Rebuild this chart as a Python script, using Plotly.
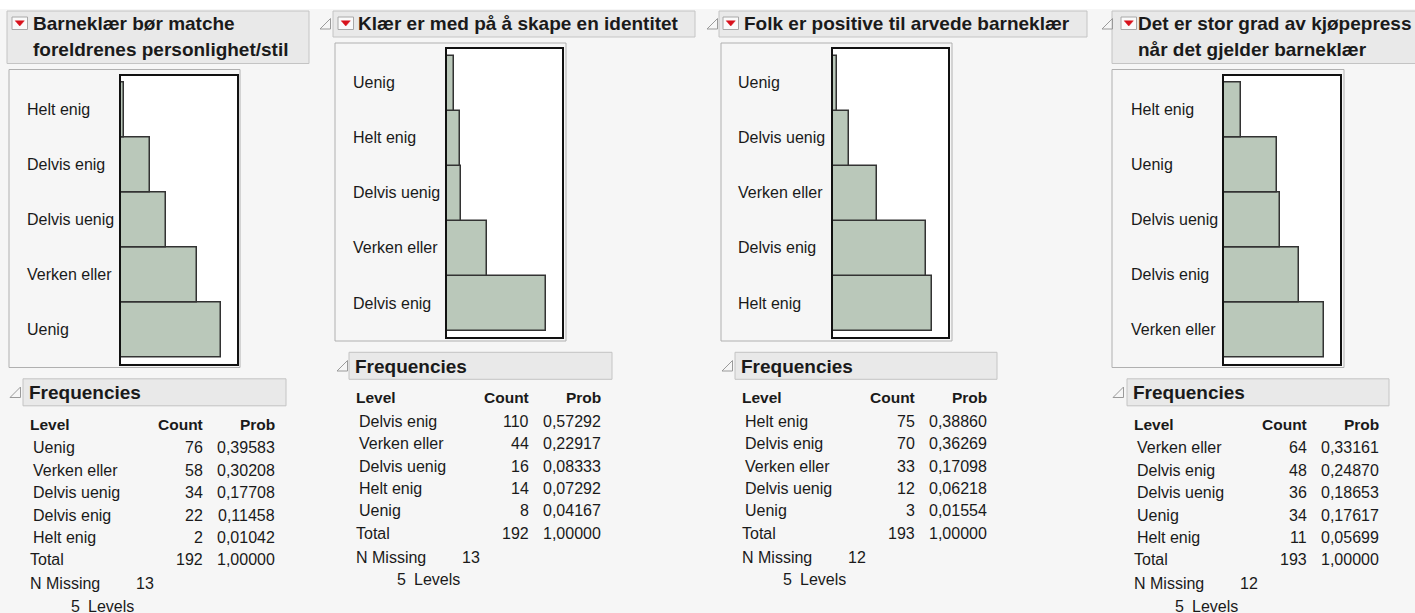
import plotly.graph_objects as go

W, H = 1415, 613

# ---------------- data ----------------
titles = [
    ["Barneklær bør matche", "foreldrenes personlighet/stil"],
    ["Klær er med på å skape en identitet"],
    ["Folk er positive til arvede barneklær"],
    ["Det er stor grad av kjøpepress", "når det gjelder barneklær"],
]
levels_1 = ["Uenig", "Verken eller", "Delvis uenig", "Delvis enig", "Helt enig"]
counts_1 = [76, 58, 34, 22, 2]
missing_1 = 13

levels_2 = ["Delvis enig", "Verken eller", "Delvis uenig", "Helt enig", "Uenig"]
counts_2 = [110, 44, 16, 14, 8]
missing_2 = 13

levels_3 = ["Helt enig", "Delvis enig", "Verken eller", "Delvis uenig", "Uenig"]
counts_3 = [75, 70, 33, 12, 3]
missing_3 = 12

levels_4 = ["Verken eller", "Delvis enig", "Delvis uenig", "Uenig", "Helt enig"]
counts_4 = [64, 48, 36, 34, 11]
missing_4 = 12

col_headers = ["Level", "Count", "Prob"]

panels_data = [
    (titles[0], levels_1, counts_1, missing_1),
    (titles[1], levels_2, counts_2, missing_2),
    (titles[2], levels_3, counts_3, missing_3),
    (titles[3], levels_4, counts_4, missing_4),
]

# ---------------- geometry (pixels) ----------------
geo = [
    dict(hx0=7, hx1=309, t=26.5, icon_x=12, tri_x=None, title_x=32, fx0=9, fx1=240,
         px0=121, px1=237, label_x=26, bx0=23, bx1=286, ftri_x=10),
    dict(hx0=333, hx1=695, t=0, icon_x=338, tri_x=320, title_x=357, fx0=335, fx1=566,
         px0=447, px1=562, label_x=352, bx0=349, bx1=612, ftri_x=337),
    dict(hx0=719, hx1=1087, t=0, icon_x=723, tri_x=707, title_x=743, fx0=721, fx1=952,
         px0=833, px1=948, label_x=737, bx0=735, bx1=997, ftri_x=722),
    dict(hx0=1112, hx1=1440, t=26.5, icon_x=1121, tri_x=1102, title_x=1137, fx0=1112, fx1=1344,
         px0=1224, px1=1340, label_x=1130, bx0=1127, bx1=1389, ftri_x=1113),
]

FONT = "Liberation Sans, Arial, sans-serif"
TXT = "#1a1a1a"
BG = "#f6f6f6"
HDR = "#e9e9e9"
HDR_LINE = "#c4c4c4"
BAR = "#bac8ba"


def X(px):
    return px / W


def Y(py):
    return 1 - py / H


def tri_path(x0, y0, size):
    # right-angle triangle outline (⊿)
    return (f"M {X(x0)},{Y(y0 + size)} L {X(x0 + size)},{Y(y0 + size)} "
            f"L {X(x0 + size)},{Y(y0)} Z")


fig = go.Figure()
shapes = []
annotations = []

# white strip at the very top
shapes.append(dict(type="rect", xref="paper", yref="paper", x0=0, x1=1, y0=Y(9), y1=1,
                   fillcolor="#ffffff", line=dict(width=0), layer="below"))

for i, ((ttl, levels, counts, missing), g) in enumerate(zip(panels_data, geo), start=1):
    t = g["t"]
    total = sum(counts)
    xa = "x" if i == 1 else f"x{i}"
    ya = "y" if i == 1 else f"y{i}"

    # ---- header box ----
    shapes.append(dict(type="rect", xref="paper", yref="paper",
                       x0=X(g["hx0"]), x1=X(g["hx1"]), y0=Y(37 + t), y1=Y(11),
                       fillcolor=HDR, line=dict(color=HDR_LINE, width=1), layer="below"))
    if g["tri_x"] is not None:
        shapes.append(dict(type="path", xref="paper", yref="paper",
                           path=tri_path(g["tri_x"], 18.5, 10.5),
                           line=dict(color="#9a9a9a", width=1), fillcolor="rgba(0,0,0,0)"))
    # red disclosure icon
    ix = g["icon_x"]
    shapes.append(dict(type="rect", xref="paper", yref="paper",
                       x0=X(ix), x1=X(ix + 15.5), y0=Y(29.5), y1=Y(17),
                       fillcolor="#fafafa", line=dict(color="#a8a8a8", width=1)))
    shapes.append(dict(type="path", xref="paper", yref="paper",
                       path=(f"M {X(ix + 3.2)},{Y(20.8)} L {X(ix + 12.3)},{Y(20.8)} "
                             f"L {X(ix + 7.75)},{Y(26)} Z"),
                       fillcolor="#d8121c", line=dict(color="#d8121c", width=0.5)))
    for k, line in enumerate(ttl):
        annotations.append(dict(xref="paper", yref="paper", x=X(g["title_x"] - 1),
                                y=Y(23.5 + 26 * k), text=f"<b>{line}</b>", showarrow=False,
                                xanchor="left", yanchor="middle",
                                font=dict(family=FONT, size=19, color=TXT)))

    # ---- chart frame ----
    shapes.append(dict(type="rect", xref="paper", yref="paper",
                       x0=X(g["fx0"]), x1=X(g["fx1"]), y0=Y(341 + t), y1=Y(43 + t),
                       fillcolor="rgba(0,0,0,0)", line=dict(color="#b0b0b0", width=1),
                       layer="below"))

    # ---- axes ----
    pad = ((288 / 55.0) - len(levels)) / 2
    fig.update_layout(**{
        ("xaxis" if i == 1 else f"xaxis{i}"): dict(
            domain=[X(g["px0"]), X(g["px1"])], range=[0, max(counts) * 1.16],
            anchor=ya, showticklabels=False, showgrid=False, zeroline=False,
            ticks="", showline=True, mirror=True, linecolor="#111111", linewidth=1.5,
            fixedrange=True),
        ("yaxis" if i == 1 else f"yaxis{i}"): dict(
            domain=[Y(337 + t), Y(49 + t)], type="category",
            categoryorder="array", categoryarray=levels,
            range=[-0.5 - pad, len(levels) - 0.5 + pad],
            anchor=xa, showticklabels=False, showgrid=False, zeroline=False,
            ticks="", showline=True, mirror=True, linecolor="#111111", linewidth=1.5,
            fixedrange=True),
    })

    fig.add_trace(go.Bar(
        x=counts, y=levels, orientation="h", xaxis=xa, yaxis=ya, width=1,
        marker=dict(color=BAR, line=dict(color="#333333", width=1.5)),
        showlegend=False, hoverinfo="x+y"))

    # category labels (left-aligned)
    for lv in levels:
        annotations.append(dict(xref="paper", yref=ya, x=X(g["label_x"] - 1), y=lv,
                                text=lv, showarrow=False, xanchor="left", yanchor="middle",
                                font=dict(family=FONT, size=16, color=TXT)))

    # ---- Frequencies section ----
    bx0 = g["bx0"]
    shapes.append(dict(type="rect", xref="paper", yref="paper",
                       x0=X(bx0), x1=X(g["bx1"]), y0=Y(379.3 + t), y1=Y(352.3 + t),
                       fillcolor=HDR, line=dict(color=HDR_LINE, width=1), layer="below"))
    shapes.append(dict(type="path", xref="paper", yref="paper",
                       path=tri_path(g["ftri_x"], 360.5 + t, 10.5),
                       line=dict(color="#9a9a9a", width=1), fillcolor="rgba(0,0,0,0)"))
    annotations.append(dict(xref="paper", yref="paper", x=X(bx0 + 4), y=Y(366 + t),
                            text="<b>Frequencies</b>", showarrow=False, xanchor="left",
                            yanchor="middle", font=dict(family=FONT, size=19, color=TXT)))

    hy = 397.5 + t
    hdr_font = dict(family=FONT, size=15.5, color=TXT)
    annotations.append(dict(xref="paper", yref="paper", x=X(bx0 + 5), y=Y(hy),
                            text=f"<b>{col_headers[0]}</b>", showarrow=False,
                            xanchor="left", yanchor="middle", font=hdr_font))
    annotations.append(dict(xref="paper", yref="paper", x=X(bx0 + 182), y=Y(hy),
                            text=f"<b>{col_headers[1]}</b>", showarrow=False,
                            xanchor="right", yanchor="middle", font=hdr_font))
    annotations.append(dict(xref="paper", yref="paper", x=X(bx0 + 254), y=Y(hy),
                            text=f"<b>{col_headers[2]}</b>", showarrow=False,
                            xanchor="right", yanchor="middle", font=hdr_font))

    row_font = dict(family=FONT, size=16, color=TXT)
    rows = list(zip(levels, counts)) + [("Total", total)]
    for r, (lv, c) in enumerate(rows):
        ry = 421.3 + 22.4 * r + t
        lx = bx0 + (5 if r == len(levels) else 8)
        prob = f"{c / total:.5f}".replace(".", ",")
        annotations.append(dict(xref="paper", yref="paper", x=X(lx), y=Y(ry), text=lv,
                                showarrow=False, xanchor="left", yanchor="middle",
                                font=row_font))
        annotations.append(dict(xref="paper", yref="paper", x=X(bx0 + 182), y=Y(ry),
                                text=str(c), showarrow=False, xanchor="right",
                                yanchor="middle", font=row_font))
        annotations.append(dict(xref="paper", yref="paper", x=X(bx0 + 254), y=Y(ry),
                                text=prob, showarrow=False, xanchor="right",
                                yanchor="middle", font=row_font))

    my = 557 + t
    annotations.append(dict(xref="paper", yref="paper", x=X(bx0 + 5), y=Y(my),
                            text="N Missing", showarrow=False, xanchor="left",
                            yanchor="middle", font=row_font))
    annotations.append(dict(xref="paper", yref="paper", x=X(bx0 + 133), y=Y(my),
                            text=str(missing), showarrow=False, xanchor="right",
                            yanchor="middle", font=row_font))
    ly = 579.7 + t
    annotations.append(dict(xref="paper", yref="paper", x=X(bx0 + 46), y=Y(ly),
                            text=str(len(levels)), showarrow=False, xanchor="left",
                            yanchor="middle", font=row_font))
    annotations.append(dict(xref="paper", yref="paper", x=X(bx0 + 63), y=Y(ly),
                            text="Levels", showarrow=False, xanchor="left",
                            yanchor="middle", font=row_font))

fig.update_layout(
    width=W, height=H, margin=dict(l=0, r=0, t=0, b=0),
    paper_bgcolor=BG, plot_bgcolor="#ffffff", bargap=0,
    shapes=shapes, annotations=annotations, showlegend=False,
    font=dict(family=FONT, color=TXT),
)

fig.write_html(
    "out.html",
    config={"displayModeBar": False},
    post_script="document.body.style.margin='0';document.body.style.overflow='hidden';",
)
